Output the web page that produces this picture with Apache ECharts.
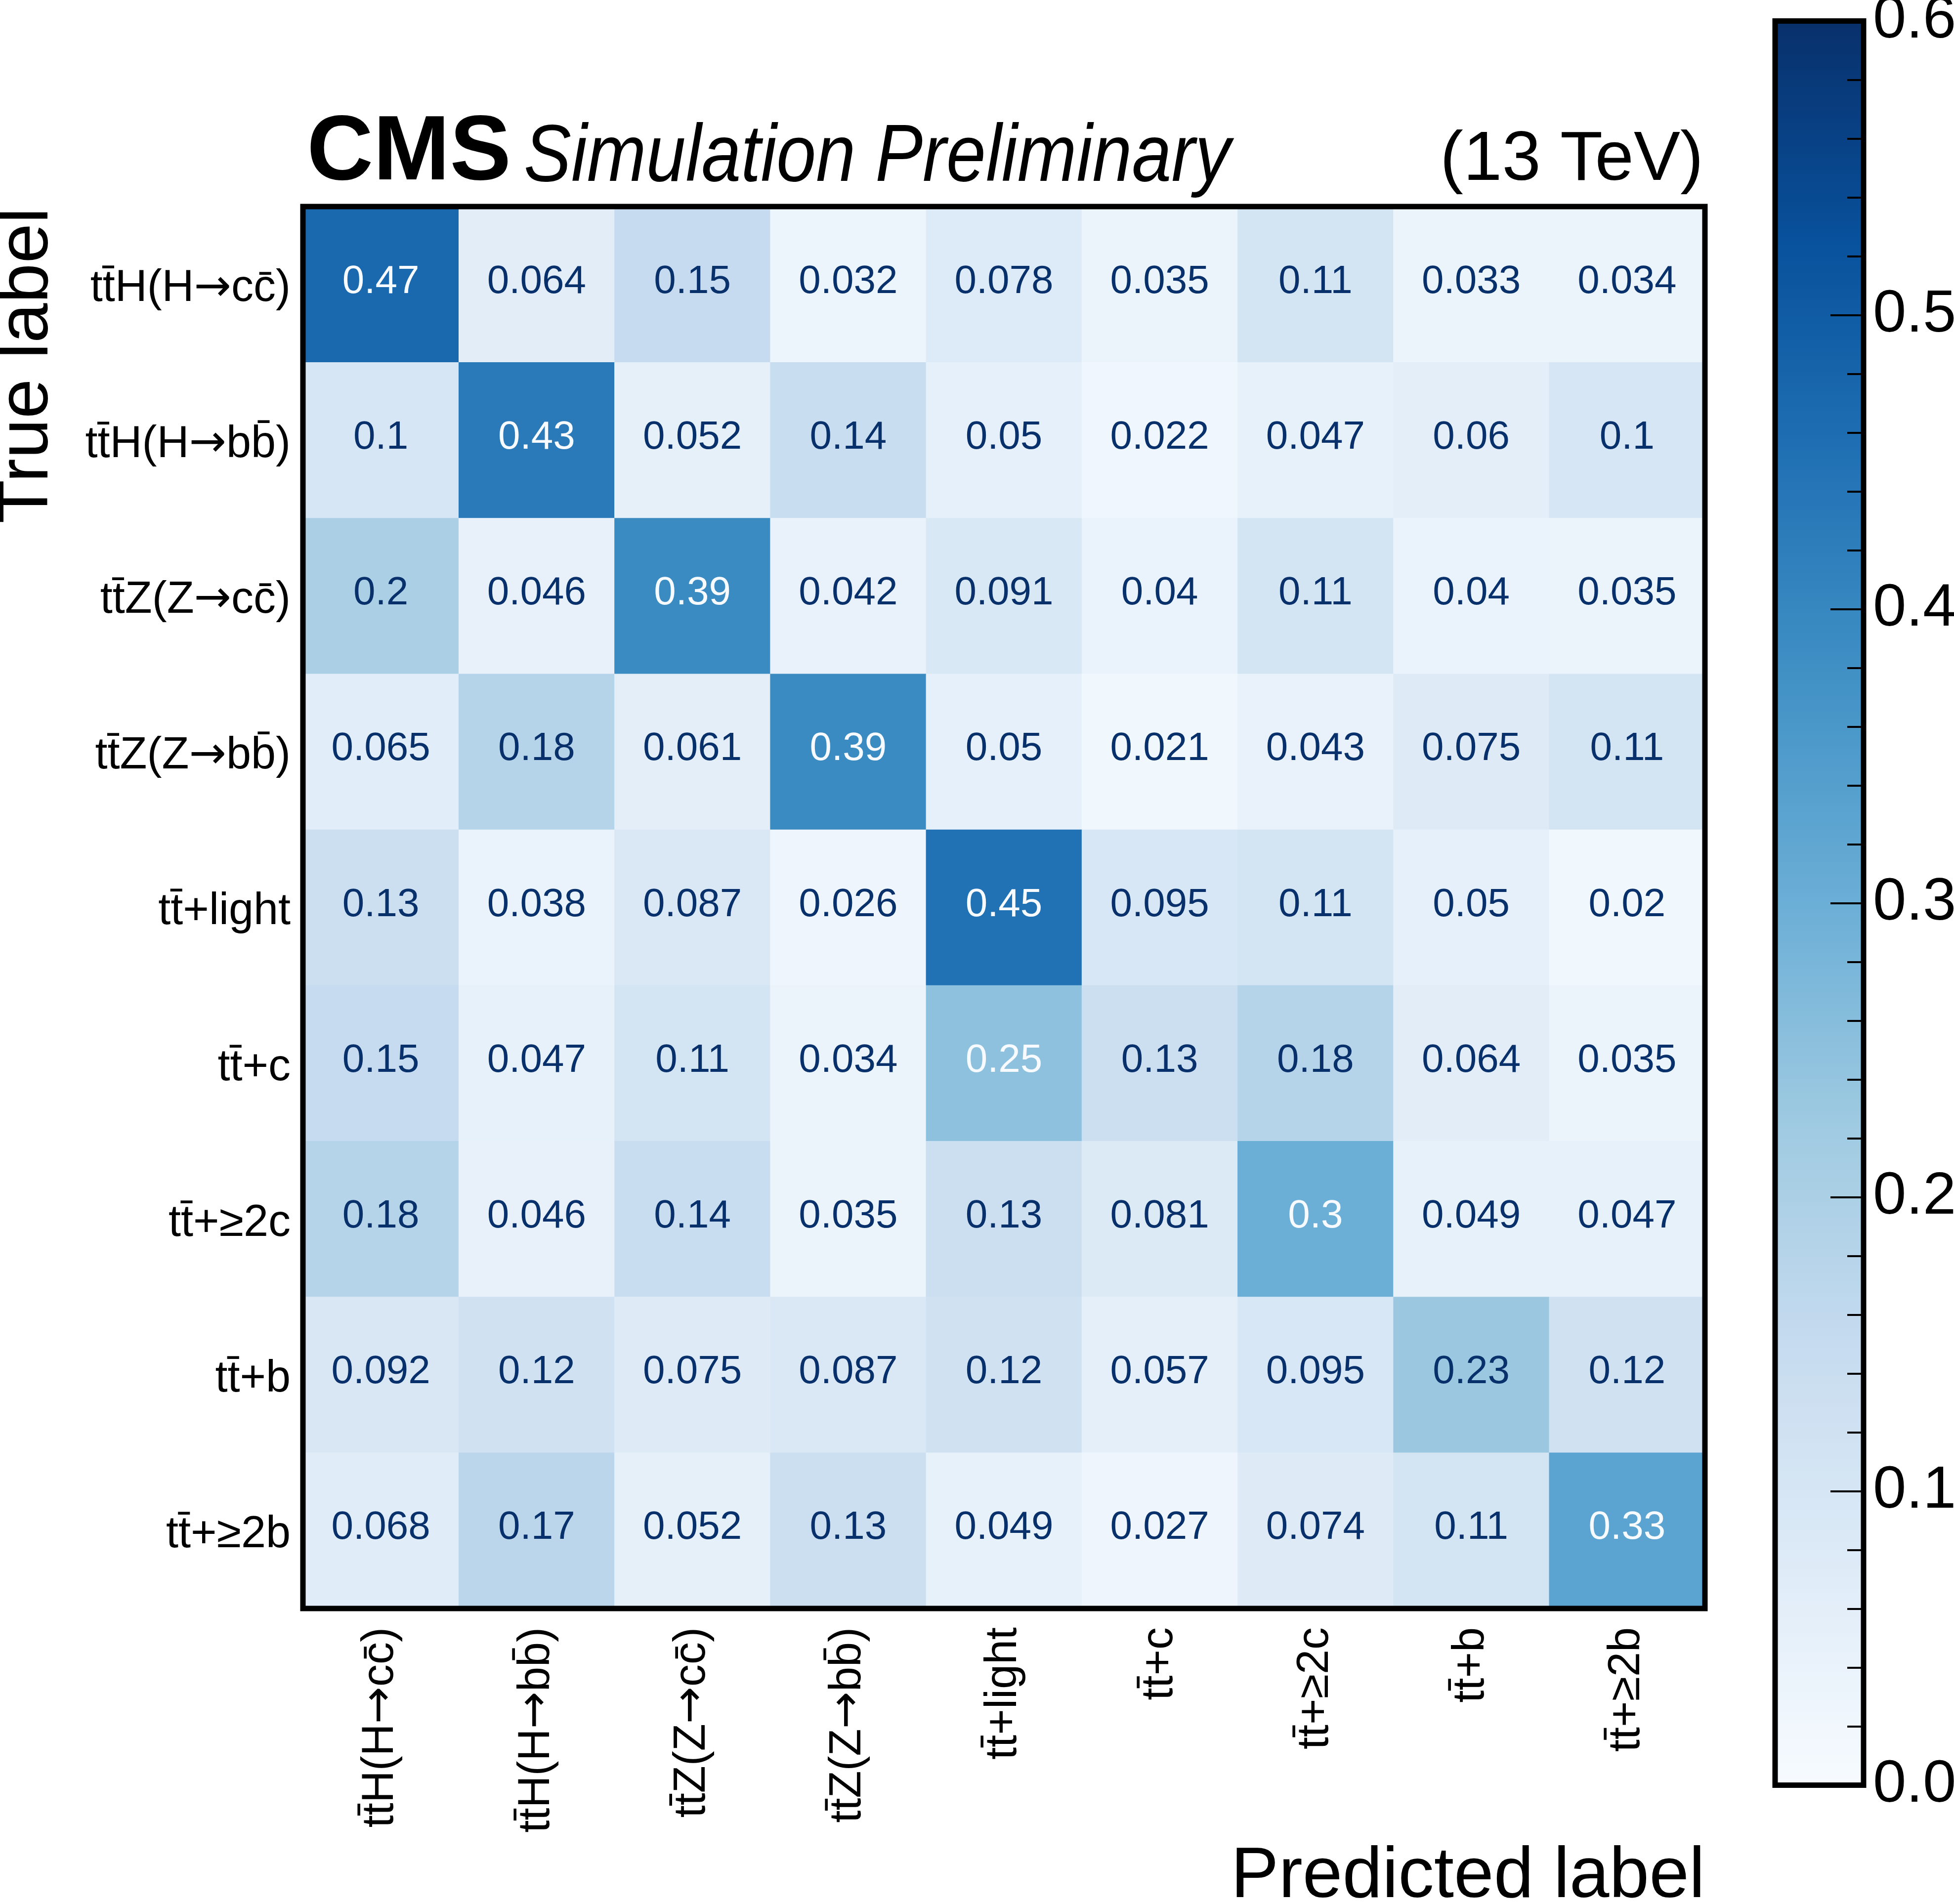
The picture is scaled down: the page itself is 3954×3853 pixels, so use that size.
<!DOCTYPE html>
<html>
<head>
<meta charset="utf-8">
<script src="https://cdn.jsdelivr.net/npm/echarts@6/dist/echarts.min.js"></script>
<style>
html,body{margin:0;padding:0;background:#fff;}
#chart{width:3954px;height:3853px;}
</style>
</head>
<body>
<div id="chart"></div>
<script>
const FONT = '"Liberation Sans", Arial, Helvetica, sans-serif';
const ARROW_FONT = '"DejaVu Sans", "Liberation Sans", sans-serif';

// Category labels (true label = rows, predicted label = columns)
const trueLabels = [
  'tt\u0304H(H\u2192cc\u0304)',
  'tt\u0304H(H\u2192bb\u0304)',
  'tt\u0304Z(Z\u2192cc\u0304)',
  'tt\u0304Z(Z\u2192bb\u0304)',
  'tt\u0304+light',
  'tt\u0304+c',
  'tt\u0304+\u22652c',
  'tt\u0304+b',
  'tt\u0304+\u22652b'
];
const predictedLabels = trueLabels.slice();

// Confusion-matrix rows (fractions), one per true label
const rowTTHcc   = [0.47, 0.064, 0.15, 0.032, 0.078, 0.035, 0.11, 0.033, 0.034];
const rowTTHbb   = [0.1, 0.43, 0.052, 0.14, 0.05, 0.022, 0.047, 0.06, 0.1];
const rowTTZcc   = [0.2, 0.046, 0.39, 0.042, 0.091, 0.04, 0.11, 0.04, 0.035];
const rowTTZbb   = [0.065, 0.18, 0.061, 0.39, 0.05, 0.021, 0.043, 0.075, 0.11];
const rowTTlight = [0.13, 0.038, 0.087, 0.026, 0.45, 0.095, 0.11, 0.05, 0.02];
const rowTTc     = [0.15, 0.047, 0.11, 0.034, 0.25, 0.13, 0.18, 0.064, 0.035];
const rowTT2c    = [0.18, 0.046, 0.14, 0.035, 0.13, 0.081, 0.3, 0.049, 0.047];
const rowTTb     = [0.092, 0.12, 0.075, 0.087, 0.12, 0.057, 0.095, 0.23, 0.12];
const rowTT2b    = [0.068, 0.17, 0.052, 0.13, 0.049, 0.027, 0.074, 0.11, 0.33];
const matrixRows = [rowTTHcc, rowTTHbb, rowTTZcc, rowTTZbb, rowTTlight, rowTTc, rowTT2c, rowTTb, rowTT2b];

// Colour bar
const colorbarMin = 0.0;
const colorbarMax = 0.6;
const colorbarStep = 0.1;
const bluesColors = ['#f7fbff','#deebf7','#c6dbef','#9ecae1','#6baed6','#4292c6','#2171b5','#08519c','#08306b'];

const heatData = [];
matrixRows.forEach((row, i) => row.forEach((v, j) => heatData.push([j, i, v])));
const allVals = matrixRows.flat();
const textThreshold = (Math.max(...allVals) + Math.min(...allVals)) / 2;

// put the arrow into its own rich-text token (longer arrow glyph)
const withArrow = s => s.split('\u2192').join('{a|\u2192}');

const chart = echarts.init(document.getElementById('chart'), null, {renderer: 'canvas'});

const option = {
  animation: false,
  backgroundColor: '#ffffff',
  grid: [
    {left: 613, top: 418, right: 504, bottom: 598, show: true, borderColor: '#000', borderWidth: 11,
     backgroundColor: 'transparent', z: 5, containLabel: false, outerBoundsMode: 'none'},
    {left: 3592, top: 42.5, width: 179, height: 3570, show: true, borderColor: '#000', borderWidth: 11,
     backgroundColor: 'transparent', z: 6, containLabel: false, outerBoundsMode: 'none'}
  ],
  xAxis: [
    {type: 'category', data: predictedLabels, gridIndex: 0, position: 'bottom',
     axisLine: {show: false}, axisTick: {show: false}, splitLine: {show: false},
     axisLabel: {rotate: 90, interval: 0, fontSize: 90, fontFamily: FONT, color: '#000', margin: 38, hideOverlap: false,
                 formatter: withArrow, rich: {a: {fontFamily: ARROW_FONT, fontSize: 90, color: '#000'}}}},
    {type: 'category', gridIndex: 1, show: false, data: ['cb']}
  ],
  yAxis: [
    {type: 'category', data: trueLabels, inverse: true, gridIndex: 0,
     axisLine: {show: false}, axisTick: {show: false}, splitLine: {show: false},
     axisLabel: {interval: 0, fontSize: 90, fontFamily: FONT, color: '#000', margin: 25, hideOverlap: false,
                 padding: [18, 0, 0, 0],
                 formatter: withArrow, rich: {a: {fontFamily: ARROW_FONT, fontSize: 90, color: '#000'}}}},
    {type: 'value', gridIndex: 1, position: 'right', min: colorbarMin, max: colorbarMax, interval: colorbarStep, z: 10,
     axisLine: {show: false, onZero: false},
     axisTick: {show: true, inside: true, length: 67, lineStyle: {color: '#000', width: 4}},
     minorTick: {show: true, splitNumber: 5, length: 33, lineStyle: {color: '#000', width: 4}},
     splitLine: {show: false}, minorSplitLine: {show: false},
     axisLabel: {fontSize: 121, fontFamily: FONT, color: '#000', margin: 19, formatter: v => v.toFixed(1)}}
  ],
  visualMap: {
    type: 'continuous', min: colorbarMin, max: colorbarMax, seriesIndex: 0, calculable: false,
    show: true, orient: 'vertical', left: 3592, top: 42.5, itemWidth: 179, itemHeight: 3570,
    padding: 0, inRange: {color: bluesColors}, z: 4
  },
  graphic: [
    {type: 'text', x: 621, y: 312, z: 20,
     style: {text: 'CMS', font: 'bold 186px ' + FONT, fill: '#000', textAlign: 'left', align: 'left', textVerticalAlign: 'middle', verticalAlign: 'middle'}},
    {type: 'text', x: 1060, y: 321, z: 20, scaleX: 0.882, scaleY: 1,
     style: {text: 'Simulation Preliminary', font: 'italic 163px ' + FONT, fill: '#000', textAlign: 'left', align: 'left', textVerticalAlign: 'middle', verticalAlign: 'middle'}},
    {type: 'text', x: 3447, y: 325, z: 20,
     style: {text: '(13 TeV)', font: '141px ' + FONT, fill: '#000', textAlign: 'right', align: 'right', textVerticalAlign: 'middle', verticalAlign: 'middle'}},
    {type: 'text', x: 56, y: 420, rotation: Math.PI / 2, z: 20,
     style: {text: 'True label', font: '145px ' + FONT, fill: '#000', textAlign: 'right', align: 'right', textVerticalAlign: 'middle', verticalAlign: 'middle'}},
    {type: 'text', x: 3450, y: 3799, z: 20,
     style: {text: 'Predicted label', font: '145px ' + FONT, fill: '#000', textAlign: 'right', align: 'right', textVerticalAlign: 'middle', verticalAlign: 'middle'}}
  ],
  series: [{
    type: 'heatmap', xAxisIndex: 0, yAxisIndex: 0, data: heatData,
    itemStyle: {borderWidth: 0},
    emphasis: {disabled: true},
    label: {
      show: true, fontSize: 80, fontFamily: FONT, offset: [0, -5],
      formatter: p => (p.value[2] > textThreshold ? '{w|' : '{d|') + p.value[2] + '}',
      rich: {
        w: {color: '#f7fbff', fontSize: 80, fontFamily: FONT},
        d: {color: '#08306b', fontSize: 80, fontFamily: FONT}
      }
    }
  }]
};
chart.setOption(option);
</script>
</body>
</html>
